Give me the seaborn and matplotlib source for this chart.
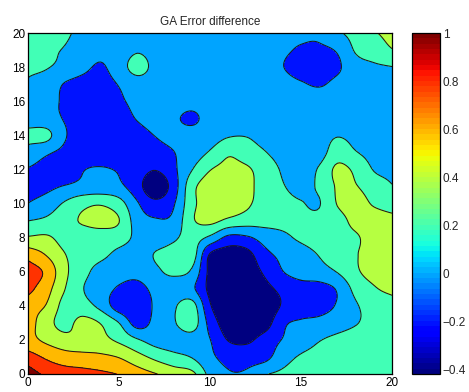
import numpy as np
import matplotlib
matplotlib.use("Agg")
import matplotlib.pyplot as plt
import seaborn as sns
from matplotlib.colors import Normalize
from matplotlib.cm import ScalarMappable

# ---------------- data (grid 0..20 step 1) ----------------
x_grid = list(range(21))
y_grid = list(range(21))

row_y00 = [1.10, 0.96, 0.90, 0.87, 0.84, 0.79, 0.70, 0.61, 0.52, 0.46, 0.14, 0.02, 0.03, 0.18, 0.24, 0.28, 0.30, 0.30, 0.30, 0.30, 0.30]
row_y01 = [0.89, 0.77, 0.69, 0.67, 0.64, 0.59, 0.47, 0.35, 0.26, 0.19, 0.04, -0.06, -0.08, -0.06, 0.12, 0.22, 0.26, 0.28, 0.29, 0.30, 0.30]
row_y02 = [0.67, 0.56, 0.47, 0.44, 0.45, 0.36, 0.22, 0.12, 0.10, 0.12, 0.005, -0.21, -0.24, -0.12, 0.01, 0.10, 0.19, 0.24, 0.27, 0.28, 0.29]
row_y03 = [0.70, 0.48, 0.34, 0.46, 0.39, 0.20, -0.08, 0.06, 0.18, 0.30, -0.07, -0.32, -0.37, -0.30, -0.04, 0.03, 0.06, 0.12, 0.19, 0.24, 0.27]
row_y04 = [0.70, 0.59, 0.33, 0.28, 0.14, -0.10, -0.12, 0.03, 0.17, 0.28, -0.18, -0.37, -0.39, -0.35, -0.18, -0.12, -0.08, 0.02, 0.18, 0.27, 0.31]
row_y05 = [0.86, 0.68, 0.41, 0.21, 0.08, -0.02, -0.06, 0.05, 0.08, 0.04, -0.25, -0.36, -0.38, -0.26, -0.15, -0.08, -0.07, 0.02, 0.26, 0.38, 0.45]
row_y06 = [0.90, 0.76, 0.45, 0.27, 0.12, 0.07, 0.06, 0.16, 0.24, 0.17, -0.25, -0.34, -0.32, -0.17, -0.005, 0.08, 0.12, 0.21, 0.37, 0.46, 0.48]
row_y07 = [0.72, 0.59, 0.41, 0.31, 0.25, 0.15, 0.12, 0.21, 0.26, 0.30, -0.22, -0.30, -0.27, -0.06, 0.05, 0.12, 0.21, 0.32, 0.39, 0.46, 0.50]
row_y08 = [0.42, 0.43, 0.33, 0.30, 0.31, 0.28, 0.16, 0.11, 0.17, 0.27, 0.16, -0.05, -0.03, 0.08, 0.16, 0.23, 0.28, 0.34, 0.38, 0.47, 0.50]
row_y09 = [0.195, 0.24, 0.33, 0.42, 0.46, 0.405, 0.10, 0.02, 0.05, 0.37, 0.45, 0.36, 0.30, 0.27, 0.25, 0.24, 0.25, 0.33, 0.45, 0.48, 0.46]
row_y10 = [0.003, 0.08, 0.22, 0.34, 0.38, 0.28, 0.02, -0.14, -0.02, 0.34, 0.50, 0.52, 0.44, 0.30, 0.25, 0.21, 0.19, 0.41, 0.47, 0.38, 0.31]
row_y11 = [-0.05, -0.04, 0.01, 0.05, 0.06, 0.04, -0.12, -0.36, -0.10, 0.33, 0.50, 0.52, 0.48, 0.28, 0.21, 0.15, 0.23, 0.42, 0.41, 0.30, 0.21]
row_y12 = [-0.01, -0.06, -0.10, -0.01, 0.02, -0.02, -0.10, -0.19, -0.04, 0.19, 0.39, 0.45, 0.43, 0.30, 0.18, 0.12, 0.22, 0.44, 0.36, 0.19, 0.15]
row_y13 = [0.13, 0.03, -0.04, -0.08, -0.13, -0.14, -0.11, -0.07, -0.005, 0.09, 0.22, 0.37, 0.30, 0.21, 0.13, 0.10, 0.12, 0.30, 0.21, 0.14, 0.12]
row_y14 = [0.25, 0.26, 0.02, -0.07, -0.12, -0.13, -0.06, 0.005, 0.05, 0.08, 0.10, 0.18, 0.19, 0.13, 0.10, 0.10, 0.13, 0.19, 0.15, 0.12, 0.10]
row_y15 = [0.11, 0.06, -0.01, -0.08, -0.12, -0.08, 0.01, 0.05, 0.03, -0.04, 0.08, 0.10, 0.10, 0.10, 0.10, 0.10, 0.11, 0.12, 0.11, 0.10, 0.10]
row_y16 = [0.12, 0.05, -0.02, -0.09, -0.10, -0.03, 0.05, 0.08, 0.09, 0.08, 0.10, 0.10, 0.10, 0.10, 0.10, 0.10, 0.10, 0.10, 0.10, 0.10, 0.10]
row_y17 = [0.18, 0.12, -0.01, -0.06, -0.07, 0.01, 0.10, 0.10, 0.10, 0.10, 0.10, 0.10, 0.10, 0.10, 0.07, 0.02, -0.02, 0.05, 0.10, 0.12, 0.13]
row_y18 = [0.23, 0.21, 0.15, 0.05, -0.02, 0.10, 0.28, 0.14, 0.10, 0.10, 0.10, 0.10, 0.10, 0.08, 0.005, -0.08, -0.10, -0.03, 0.12, 0.17, 0.195]
row_y19 = [0.27, 0.23, 0.19, 0.12, 0.05, 0.09, 0.18, 0.12, 0.10, 0.10, 0.10, 0.09, 0.09, 0.08, 0.03, -0.02, -0.03, 0.02, 0.22, 0.30, 0.39]
row_y20 = [0.30, 0.26, 0.23, 0.15, 0.10, 0.11, 0.13, 0.11, 0.10, 0.10, 0.09, 0.08, 0.08, 0.08, 0.06, 0.04, 0.04, 0.17, 0.27, 0.38, 0.46]

contour_levels = [-0.4, -0.2, 0.0, 0.2, 0.4, 0.6, 0.8, 1.0]
cbar_ticks = [-0.4, -0.2, 0.0, 0.2, 0.4, 0.6, 0.8, 1.0]
cbar_ticklabels = ["\u22120.4", "\u22120.2", "0", "0.2", "0.4", "0.6", "0.8", "1"]
x_ticks = [0, 5, 10, 15, 20]
y_ticks = [0, 2, 4, 6, 8, 10, 12, 14, 16, 18, 20]
color_limits = (-0.42, 1.0)
title_text = "GA Error difference"

error_diff = np.array([row_y00, row_y01, row_y02, row_y03, row_y04, row_y05, row_y06,
                       row_y07, row_y08, row_y09, row_y10, row_y11, row_y12, row_y13,
                       row_y14, row_y15, row_y16, row_y17, row_y18, row_y19, row_y20])


# smooth (Catmull-Rom) resampling of the read grid, only for drawing smooth contour curves
def cr_resample(a, factor, axis):
    a = np.moveaxis(a, axis, 0)
    n = a.shape[0]
    pad = np.concatenate([2 * a[:1] - a[1:2], a, 2 * a[-1:] - a[-2:-1]], axis=0)
    u = np.linspace(0, n - 1, (n - 1) * factor + 1)
    i = np.clip(np.floor(u).astype(int), 0, n - 2)
    t = (u - i)[:, None]
    p0, p1, p2, p3 = pad[i], pad[i + 1], pad[i + 2], pad[i + 3]
    out = 0.5 * (2 * p1 + (-p0 + p2) * t + (2 * p0 - 5 * p1 + 4 * p2 - p3) * t ** 2
                 + (-p0 + 3 * p1 - 3 * p2 + p3) * t ** 3)
    return np.moveaxis(out, 0, axis), u


fine, xs = cr_resample(error_diff, 8, 1)
fine, ys = cr_resample(fine, 8, 0)
xs = xs * (x_grid[-1] - x_grid[0]) / (len(x_grid) - 1) + x_grid[0]
ys = ys * (y_grid[-1] - y_grid[0]) / (len(y_grid) - 1) + y_grid[0]

# ---------------- style ----------------
sns.set_theme(style="ticks")
plt.rcParams['font.family'] = ['Liberation Sans', 'DejaVu Sans']
plt.rcParams['axes.linewidth'] = 0.9
plt.rcParams['contour.negative_linestyle'] = 'solid'

W, H = 469, 392
fig = plt.figure(figsize=(W / 100, H / 100), dpi=100)
fig.patch.set_facecolor("white")
ax = fig.add_axes([28 / W, (H - 374) / H, 364 / W, 341 / H])
cax = fig.add_axes([412 / W, (H - 374) / H, 28 / W, 341 / H])

cmap = plt.get_cmap("jet", 64)
norm = Normalize(*color_limits)
fill_levels = [min(-0.6, float(fine.min()) - 0.01)] + contour_levels + [max(1.3, float(fine.max()) + 0.01)]
band_colors = [cmap(norm(max(lv, color_limits[0]))) for lv in fill_levels[:-1]]

X, Y = np.meshgrid(xs, ys)
ax.contourf(X, Y, fine, levels=fill_levels, colors=band_colors)
ax.contour(X, Y, fine, levels=contour_levels, colors="k", linewidths=0.75,
           linestyles="solid")

ax.set_xlim(0, 20)
ax.set_ylim(0, 20)
ax.set_xticks(x_ticks)
ax.set_yticks(y_ticks)
ax.tick_params(direction="in", top=True, right=True, length=3, width=0.6,
               labelsize=8.5, colors="black", pad=2)
for s in ax.spines.values():
    s.set_color("black")
    s.set_linewidth(0.9)
ax.set_title(title_text, fontsize=8.5, pad=6)

cb = fig.colorbar(ScalarMappable(norm=norm, cmap=cmap), cax=cax, ticks=cbar_ticks)
cb.ax.set_yticklabels(cbar_ticklabels)
cb.outline.set_edgecolor("black")
cb.outline.set_linewidth(0.9)
cax.tick_params(direction="in", left=True, right=True, length=3, width=0.6,
                labelsize=8.5, pad=2)

fig.savefig("out.png", dpi=100, facecolor="white")
